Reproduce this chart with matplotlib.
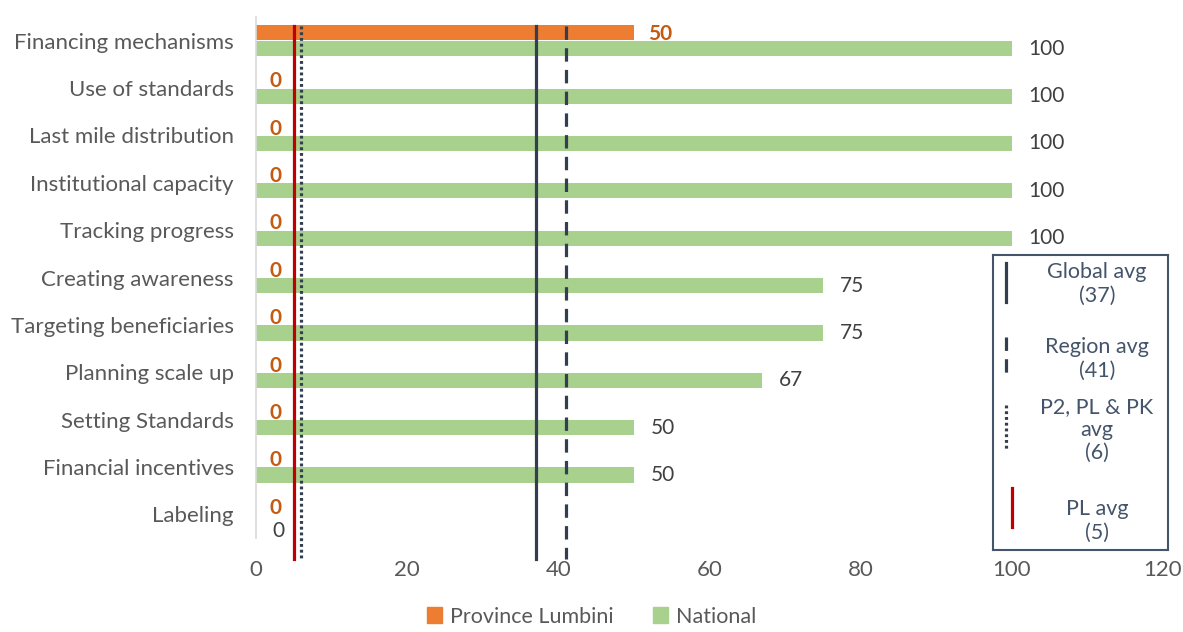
import matplotlib.pyplot as plt
from matplotlib.patches import Patch
import numpy as np

plt.rcParams['font.family'] = ['Lato', 'DejaVu Sans']

# categories top to bottom
categories = ["Financing mechanisms", "Use of standards", "Last mile distribution",
              "Institutional capacity", "Tracking progress", "Creating awareness",
              "Targeting beneficiaries", "Planning scale up", "Setting Standards",
              "Financial incentives", "Labeling"]
lumbini = [50, 0, 0, 0, 0, 0, 0, 0, 0, 0, 0]
national = [100, 100, 100, 100, 100, 75, 75, 67, 50, 50, 0]

# reference averages
avg_names = ["Global avg\n(37)", "Region avg\n(41)", "P2, PL & PK\navg\n(6)", "PL avg\n(5)"]
avg_values = [37, 41, 6, 5]

c_orange = "#ED7D31"
c_green = "#A9D18E"
c_navy = "#333F50"
c_red = "#C00000"
c_text = "#595959"

fig = plt.figure(figsize=(11.83, 6.32), dpi=100)
ax = fig.add_axes([0.2164, 0.1487, 0.7667, 0.8244])

y = np.arange(len(categories))
h = 0.32
ax.barh(y - 0.17, lumbini, height=h, color=c_orange, label="Province Lumbini")
ax.barh(y + 0.17, national, height=h, color=c_green, label="National")

for yi, v in zip(y, lumbini):
    ax.annotate(str(v), (v, yi - 0.17), xytext=(10, -1), textcoords="offset points",
                va="center", ha="left", fontsize=15, fontweight="bold", color="#C55A11")
for yi, v in zip(y, national):
    # empty bar: push the label down so it clears the one above
    dy = -6 if v == 0 else 0
    ax.annotate(str(v), (v, yi + 0.17), xytext=(12, dy), textcoords="offset points",
                va="center", ha="left", fontsize=15, color="#404040")

# average lines, running a bit past the plot area
ytop, ybot = -0.3, 10.95
ax.plot([avg_values[0]] * 2, [ytop, ybot], color=c_navy, lw=2.3, clip_on=False)
ax.plot([avg_values[1]] * 2, [ytop, ybot], color=c_navy, lw=2.3, clip_on=False,
        dashes=(4.2, 2.6))
ax.plot([avg_values[2]] * 2, [ytop, ybot], color=c_navy, lw=2.3, clip_on=False,
        dashes=(0.9, 0.9))
ax.plot([avg_values[3]] * 2, [ytop, ybot], color=c_red, lw=2.3, clip_on=False)

ax.set_xlim(0, 120)
ax.set_xticks(range(0, 121, 20))
ax.set_ylim(10.5, -0.5)
ax.set_yticks(y)
ax.set_yticklabels(categories)
ax.tick_params(axis="both", length=0, labelsize=16, colors=c_text)
ax.tick_params(axis="y", pad=16)
ax.tick_params(axis="x", pad=16)
for s in ["top", "right", "bottom"]:
    ax.spines[s].set_visible(False)
ax.spines["left"].set_color("#D9D9D9")
ax.spines["left"].set_linewidth(1.2)

# boxed key for the average lines
lax = fig.add_axes([0.8394, 0.1297, 0.148, 0.4668])
lax.set_xlim(0, 175)
lax.set_ylim(295, 0)
lax.set_xticks([])
lax.set_yticks([])
for s in lax.spines.values():
    s.set_color("#44546A")
    s.set_linewidth(1.5)
lax.plot([13, 13], [8, 47], color=c_navy, lw=2.3)
lax.plot([13, 13], [82, 118], color=c_navy, lw=2.3, dashes=(4.2, 2.6))
lax.plot([13, 13], [150, 195], color=c_navy, lw=2.3, dashes=(0.9, 0.9))
lax.plot([19, 19], [233, 272], color=c_red, lw=2.3)
text_y = [29, 104, 175, 266]
for name, ty in zip(avg_names, text_y):
    lax.text(104, ty, name, ha="center", va="center", fontsize=15.5,
             color="#44546A", linespacing=1.2)

fig.legend(handles=[Patch(color=c_orange, label="Province Lumbini"),
                    Patch(color=c_green, label="National")],
           loc="lower center", bbox_to_anchor=(0.5, -0.022), ncol=2, frameon=False,
           fontsize=15.5, handlelength=0.7, handleheight=0.7, handletextpad=0.4,
           columnspacing=1.8, labelcolor=c_text)

fig.savefig("out.png", dpi=100)
